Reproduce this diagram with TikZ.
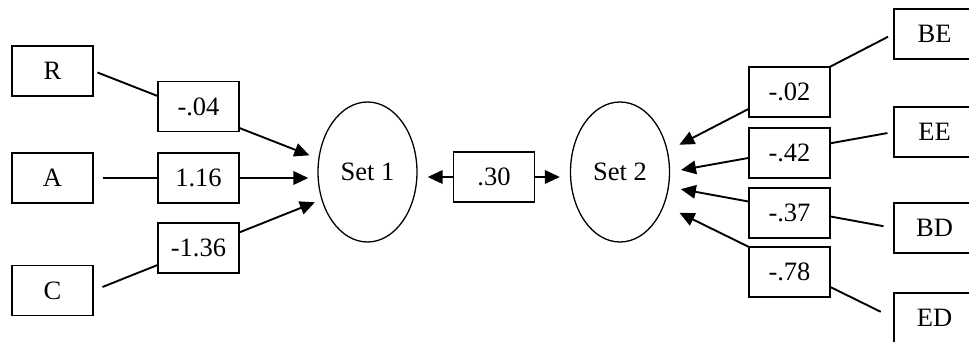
\documentclass[tikz,border=0pt]{standalone}
\usepackage{fontspec}
\setmainfont{Liberation Serif}
\usetikzlibrary{arrows.meta,shapes.geometric,backgrounds}
\begin{document}
\begin{tikzpicture}[x=1pt,y=-1pt,
  box/.style={draw,line width=1.3pt,fill=white,minimum width=81pt,minimum height=50pt,inner sep=0pt,font=\fontsize{26.5}{30}\selectfont},
  latent/.style={draw,ellipse,line width=1.3pt,minimum width=99pt,minimum height=140pt,inner sep=0pt,font=\fontsize{26.5}{30}\selectfont},
  conn/.style={line width=1.9pt},
  arr/.style={conn,-{Triangle[length=15pt,width=13.5pt]}}]
\useasboundingbox (0,0) rectangle (969,342);
% observed variables
\node[box] (R) at (52.5,71) {R};
\node[box] (A) at (52.5,178) {A};
\node[box] (C) at (52.5,290.5) {C};
\node[box] (BE) at (934.5,34) {BE};
\node[box] (EE) at (934.5,132) {EE};
\node[box] (BD) at (934.5,228) {BD};
\node[box] (ED) at (934.5,318) {ED};
% latent sets
\node[latent] (set1) at (367.5,172) {Set 1};
\node[latent] (set2) at (620,172) {Set 2};
% coefficients
\node[box] (cR) at (198.5,106.5) {-.04};
\node[box] (cA) at (198.5,178) {1.16};
\node[box] (cC) at (198.5,248) {-1.36};
\node[box] (r30) at (494,177) {.30};
\node[box] (c02) at (789.5,92) {-.02};
\node[box] (c42) at (789.5,153) {-.42};
\node[box] (c37) at (789.5,213) {-.37};
\node[box] (c78) at (789.5,272) {-.78};
\begin{scope}[on background layer]
\draw[arr, shorten <=4pt, shorten >=9.5pt] (R.east) -- (set1.165);
\draw[arr, shorten <=9pt, shorten >=9pt] (A.east) -- (A.east -| set1.west);
\draw[arr, shorten <=9.5pt, shorten >=7pt] (C.east) -- (set1.211);
\draw[arr, shorten >=10pt] (r30.west) -- (r30.west -| set1.east);
\draw[arr, shorten >=10pt] (r30.east) -- (r30.east -| set2.west);
\draw[arr, shorten <=6pt, shorten >=13pt] (BE.west) -- (set2.24);
\draw[arr, shorten <=6pt, shorten >=11pt] (EE.west) -- (set2.east);
\draw[arr, shorten <=10pt, shorten >=12pt] (BD.west) -- (set2.-17);
\draw[arr, shorten <=14pt, shorten >=17pt] (ED.west) -- (set2.-37);
\end{scope}
\end{tikzpicture}
\end{document}
